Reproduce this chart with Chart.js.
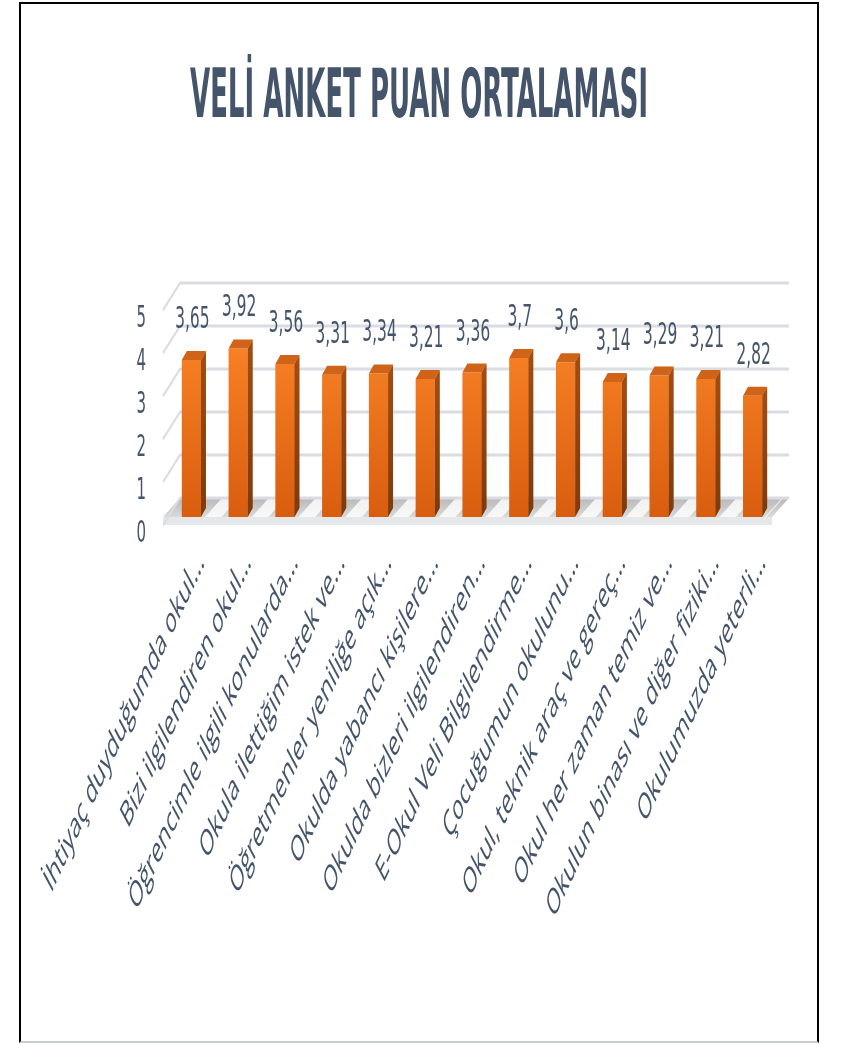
<!DOCTYPE html>
<html>
<head>
<meta charset="utf-8">
<script src="https://cdn.jsdelivr.net/npm/chart.js@4.4.1/dist/chart.umd.min.js"></script>
<style>
  html, body { margin: 0; padding: 0; background: #ffffff; }
  body { width: 841px; height: 1044px; overflow: hidden; position: relative; }
  #frame { position: absolute; left: 19px; top: 2px; width: 800px; height: 1041px; box-sizing: border-box;
           border: 2px solid #000; border-bottom: 2px solid #c8ccd2; }
  #wrap { position: absolute; left: 0; top: 0; width: 1682px; height: 1044px; transform: scaleX(0.5); transform-origin: 0 0; }
</style>
</head>
<body>
<div id="frame"></div>
<div id="wrap"><canvas id="c" width="1682" height="1044"></canvas></div>
<script>
const chartTitle = 'VELİ ANKET PUAN ORTALAMASI';
const categories = [
  'İhtiyaç duyduğumda okul...',
  'Bizi ilgilendiren okul...',
  'Öğrencimle ilgili konularda...',
  'Okula ilettiğim istek ve...',
  'Öğretmenler yeniliğe açık...',
  'Okulda yabancı kişilere...',
  'Okulda bizleri ilgilendiren...',
  'E-Okul Veli Bilgilendirme...',
  'Çocuğumun okulunu...',
  'Okul, teknik araç ve gereç...',
  'Okul her zaman temiz ve...',
  'Okulun binası ve diğer fiziki...',
  'Okulumuzda yeterli...'
];
const values = [3.65, 3.92, 3.56, 3.31, 3.34, 3.21, 3.36, 3.7, 3.6, 3.14, 3.29, 3.21, 2.82];
const yTicks = [0, 1, 2, 3, 4, 5];

const TEXT = '#44546A';
const WALL_DX = 34, WALL_DY = -19, WALL_FRONT = 8;
const BAR_DX = 10, BAR_DY = -9;

const titlePlugin = {
  id: 'squeezedTitle',
  afterDraw(chart) {
    const { ctx } = chart;
    ctx.save();
    ctx.font = 'bold 67px "DejaVu Sans Condensed", "DejaVu Sans", sans-serif';
    ctx.fillStyle = TEXT;
    ctx.textAlign = 'center';
    ctx.textBaseline = 'alphabetic';
    const w = ctx.measureText(chartTitle).width;
    const k = 916 / w;
    ctx.translate(838, 117);
    ctx.scale(k, 1);
    ctx.fillText(chartTitle, 0, 0);
    ctx.restore();
  }
};

const threeD = {
  id: 'threeD',
  beforeDatasetsDraw(chart) {
    const { ctx, chartArea: ca, scales: { y } } = chart;
    const y0 = y.getPixelForValue(0);
    const fl = ca.left - 10, fr = ca.right - 8;
    const backRight = fr + WALL_DX;
    ctx.save();
    ctx.fillStyle = '#e6e7e9';
    ctx.beginPath();
    ctx.moveTo(fl, y0);
    ctx.lineTo(fr, y0);
    ctx.lineTo(fr, y0 + WALL_FRONT);
    ctx.lineTo(fl, y0 + WALL_FRONT);
    ctx.closePath();
    ctx.fill();
    const g = ctx.createLinearGradient(0, y0 + WALL_DY, 0, y0);
    g.addColorStop(0, '#b9b9b9');
    g.addColorStop(1, '#dadada');
    ctx.fillStyle = g;
    ctx.beginPath();
    ctx.moveTo(fl, y0);
    ctx.lineTo(fr, y0);
    ctx.lineTo(fr + WALL_DX, y0 + WALL_DY);
    ctx.lineTo(fl + WALL_DX, y0 + WALL_DY);
    ctx.closePath();
    ctx.fill();
    const meta = chart.getDatasetMeta(0);
    ctx.fillStyle = 'rgba(255,255,255,0.8)';
    meta.data.forEach((bar, i) => {
      const w = bar.width;
      const xs = bar.x + w / 2 + 8;
      const xe = (i < meta.data.length - 1 ? meta.data[i + 1].x - w / 2 : fr) - 14;
      ctx.beginPath();
      ctx.moveTo(xs, y0);
      ctx.lineTo(xe, y0);
      ctx.lineTo(xe + WALL_DX, y0 + WALL_DY);
      ctx.lineTo(xs + WALL_DX, y0 + WALL_DY);
      ctx.closePath();
      ctx.fill();
    });
    ctx.strokeStyle = '#d9dce1';
    ctx.lineWidth = 3;
    yTicks.forEach(v => {
      const yy = y.getPixelForValue(v);
      ctx.beginPath();
      ctx.moveTo(fl, yy + WALL_FRONT);
      ctx.lineTo(fl + WALL_DX, yy + WALL_DY);
      ctx.lineTo(backRight, yy + WALL_DY);
      ctx.stroke();
    });
    ctx.restore();
  },
  afterDatasetsDraw(chart) {
    const { ctx } = chart;
    const meta = chart.getDatasetMeta(0);
    ctx.save();
    meta.data.forEach((bar, i) => {
      const w = bar.width;
      const l = bar.x - w / 2, r = bar.x + w / 2;
      const t = bar.y, b = bar.base;
      const sg = ctx.createLinearGradient(0, t, 0, b);
      sg.addColorStop(0, '#a24c10');
      sg.addColorStop(1, '#7e3a0a');
      ctx.fillStyle = sg;
      ctx.beginPath();
      ctx.moveTo(r, t);
      ctx.lineTo(r + BAR_DX, t + BAR_DY);
      ctx.lineTo(r + BAR_DX, b + BAR_DY);
      ctx.lineTo(r, b);
      ctx.closePath();
      ctx.fill();
      ctx.fillStyle = '#cf6419';
      ctx.beginPath();
      ctx.moveTo(l, t);
      ctx.lineTo(l + BAR_DX, t + BAR_DY);
      ctx.lineTo(r + BAR_DX, t + BAR_DY);
      ctx.lineTo(r, t);
      ctx.closePath();
      ctx.fill();
      ctx.fillStyle = TEXT;
      ctx.font = '31px "DejaVu Sans"';
      ctx.textAlign = 'center';
      ctx.textBaseline = 'middle';
      ctx.fillText(String(values[i]).replace('.', ','), bar.x + 2, t - 40);
    });
    ctx.restore();
  }
};

new Chart(document.getElementById('c'), {
  type: 'bar',
  data: {
    labels: categories,
    datasets: [{
      data: values,
      backgroundColor: (c) => {
        const ca = c.chart.chartArea;
        if (!ca) return '#F47B20';
        const g = c.chart.ctx.createLinearGradient(0, ca.top, 0, ca.bottom);
        g.addColorStop(0, '#ff8a2a');
        g.addColorStop(1, '#d95d0f');
        return g;
      },
      borderWidth: 0,
      barPercentage: 0.41,
      categoryPercentage: 1
    }]
  },
  options: {
    responsive: false,
    animation: false,
    devicePixelRatio: 1,
    layout: { padding: { top: 302, left: 0, right: 0, bottom: 0 } },
    plugins: {
      legend: { display: false },
      tooltip: { enabled: false },
      title: { display: false }
    },
    scales: {
      x: {
        grid: { display: false },
        border: { display: false },
        ticks: {
          autoSkip: false,
          minRotation: 47,
          maxRotation: 47,
          color: TEXT,
          padding: 17,
          labelOffset: 20,
          font: { family: '"Open Sans", sans-serif', size: 36 }
        },
        afterFit: (s) => { s.height = 527; }
      },
      y: {
        min: 0,
        max: 5,
        grid: { display: false },
        border: { display: false },
        ticks: {
          stepSize: 1,
          color: TEXT,
          padding: 36,
          labelOffset: 17,
          font: { family: '"DejaVu Sans", sans-serif', size: 30 }
        },
        afterFit: (s) => { s.width = 336; }
      },
      y2: {
        position: 'right',
        grid: { display: false },
        border: { display: false },
        ticks: { display: false },
        afterFit: (s) => { s.width = 130; }
      }
    }
  },
  plugins: [threeD, titlePlugin]
});
</script>
</body>
</html>
